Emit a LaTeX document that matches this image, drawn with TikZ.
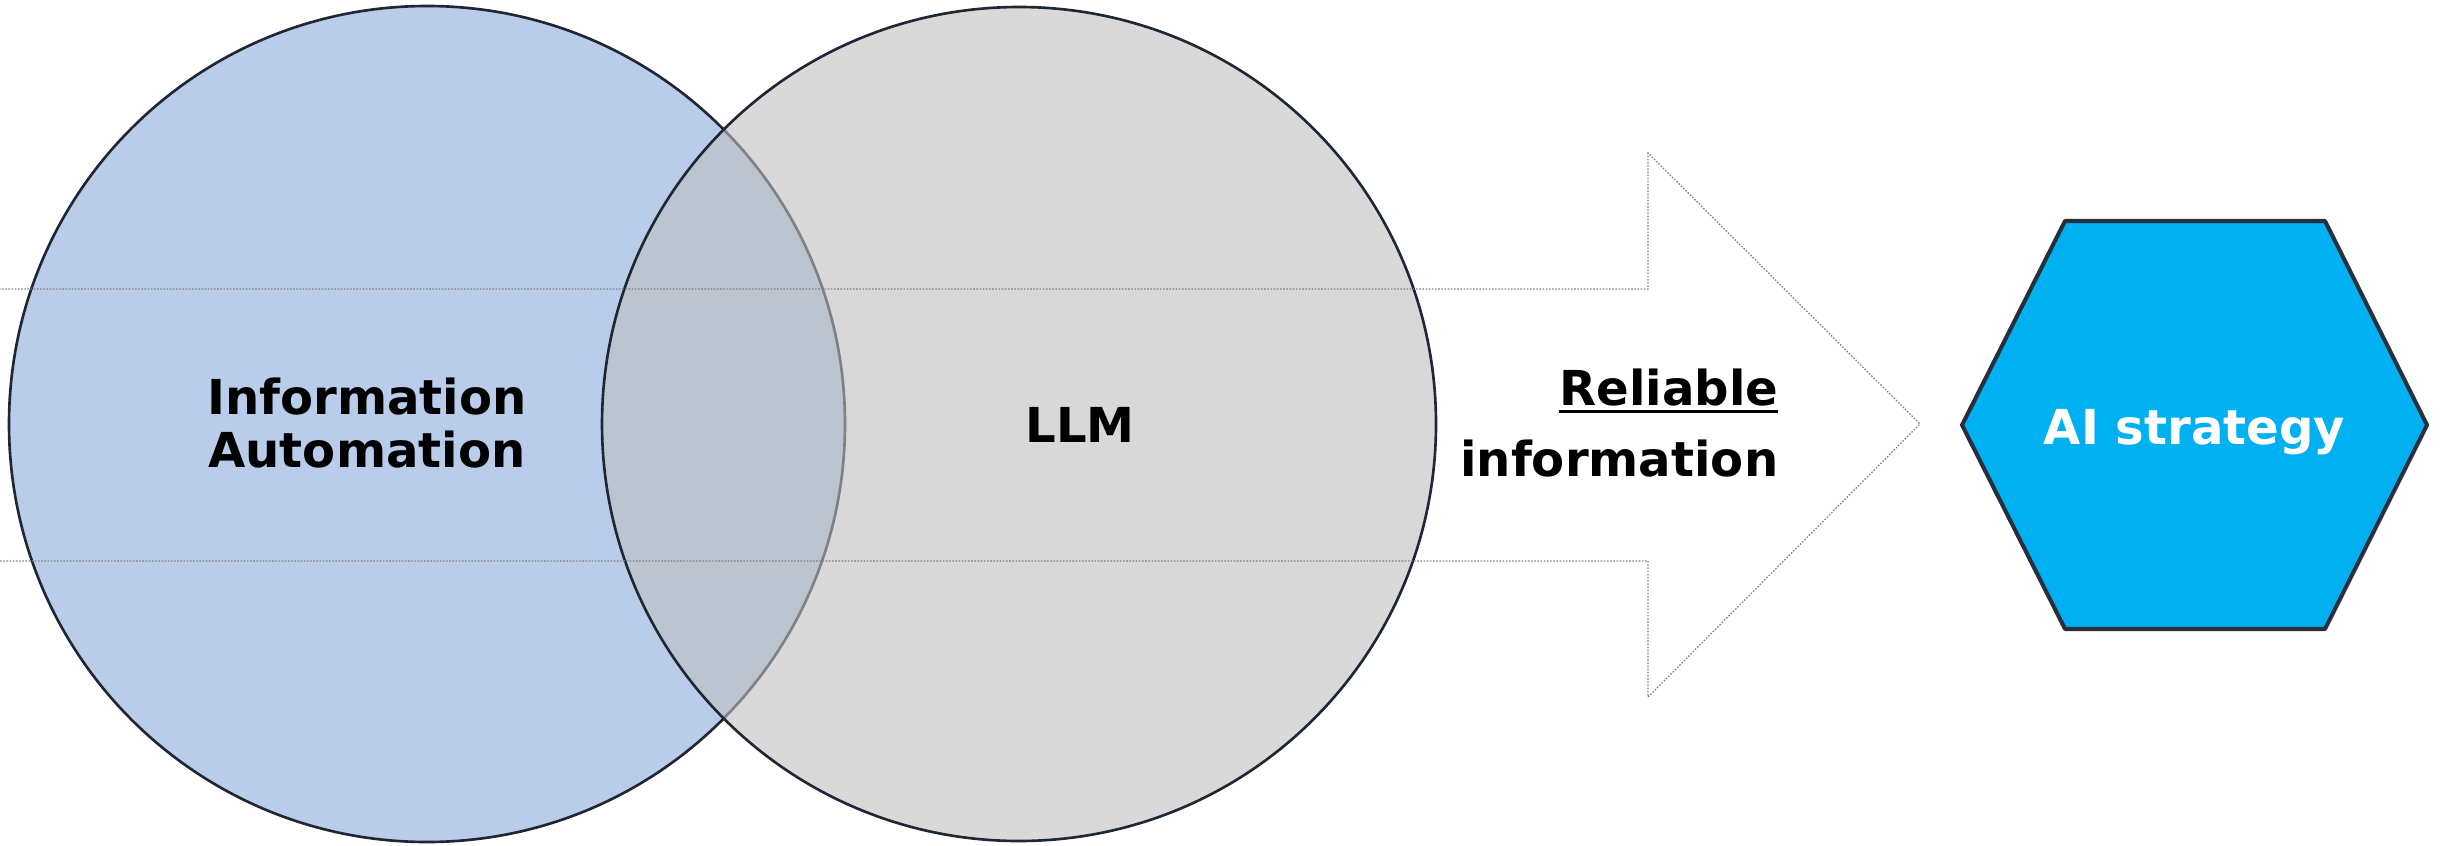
\documentclass[tikz,border=0pt]{standalone}
\usepackage{fontspec}
\setmainfont{DejaVu Sans}
\definecolor{automationblue}{RGB}{185,204,234}
\definecolor{llmgray}{RGB}{191,191,191}
\definecolor{ringline}{RGB}{30,39,51}
\definecolor{hexblue}{RGB}{0,176,240}
\definecolor{hexline}{RGB}{38,47,60}
\definecolor{arrowline}{RGB}{128,128,128}
% underline drawn as a rule just below the baseline
\newcommand\undl[1]{\setbox0=\hbox{#1}\rlap{\vrule width \wd0 height -1.1pt depth 2.0pt}\box0}
\begin{document}
\begin{tikzpicture}[x=1cm,y=1cm,
  ring/.style={circle, draw=ringline, line width=0.75pt, inner sep=0pt},
  arrowoutline/.style={draw=arrowline, line width=0.35pt, dash pattern=on 0.45pt off 0.45pt},
  hexshape/.style={draw=hexline, fill=hexblue, line width=1.15pt, line join=round},
  label/.style={font=\bfseries\fontsize{13.7}{15.1}\selectfont, text=black, inner sep=0pt}]
\useasboundingbox (0,0) rectangle (24.4,8.45);
\clip (0,0) rectangle (24.4,8.45);

% broad arrow running through the two circles
\coordinate (tail top) at (-0.2,5.56);
\coordinate (notch top) at (16.48,5.56);
\coordinate (head top) at (16.48,6.92);
\coordinate (tip) at (19.20,4.21);
\coordinate (head bottom) at (16.48,1.48);
\coordinate (notch bottom) at (16.48,2.84);
\coordinate (tail bottom) at (-0.2,2.84);
\fill[white] (tail top) -- (notch top) -- (head top) -- (tip)
  -- (head bottom) -- (notch bottom) -- (tail bottom) -- cycle;

% overlapping circles
\node[ring, fill=automationblue, minimum size=8.36cm] (auto) at (4.27,4.21) {};
\node[ring, fill=llmgray, fill opacity=0.6, minimum size=8.34cm] (llm) at (10.19,4.21) {};

% dotted arrow outline, visible across the circles
\draw[arrowoutline] (tail top) -- (notch top) -- (head top) -- (tip)
  -- (head bottom) -- (notch bottom) -- (tail bottom) -- cycle;

% circle labels
\node[label, align=center] (autotext) at (3.67,4.215) {Information\\Automation};
\node[label, anchor=base] (llmtext) at (10.80,4.03) {LLM};

% arrow label
\node[label, font=\bfseries\fontsize{13.7}{20.2}\selectfont, align=right, anchor=east]
  (reltext) at (17.79,4.215) {\undl{Reliable}\\information};

% hexagon target
\coordinate (hl) at (19.62,4.20);
\coordinate (htl) at (20.65,6.24);
\coordinate (htr) at (23.25,6.24);
\coordinate (hr) at (24.27,4.20);
\coordinate (hbr) at (23.25,2.16);
\coordinate (hbl) at (20.65,2.16);
\draw[hexshape] (hl) -- (htl) -- (htr) -- (hr) -- (hbr) -- (hbl) -- cycle;
\node[label, text=white, anchor=base] (ai) at (21.945,4.01) {AI strategy};
\end{tikzpicture}
\end{document}
